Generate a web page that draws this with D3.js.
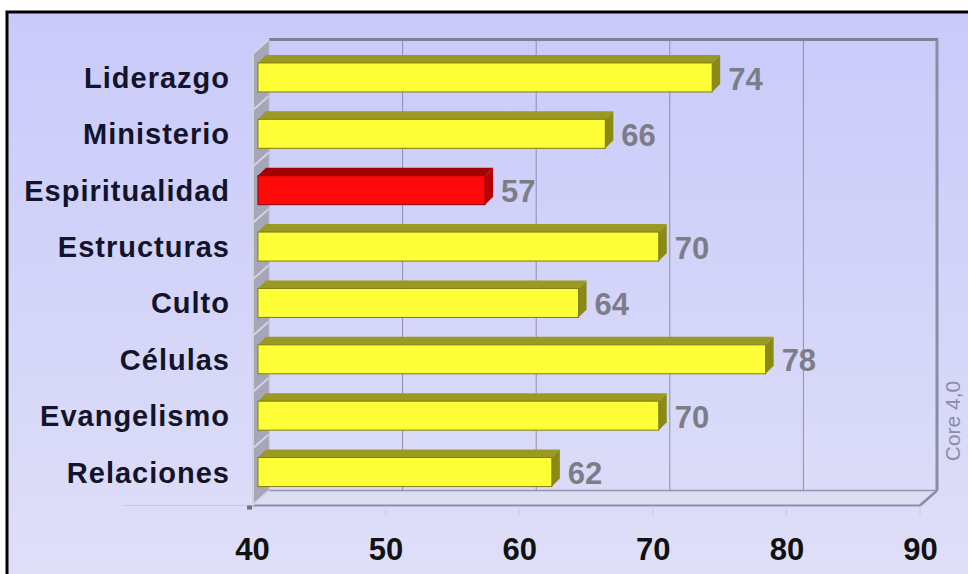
<!DOCTYPE html>
<html><head><meta charset="utf-8">
<script src="https://cdn.jsdelivr.net/npm/d3@7"></script>
<style>html,body{margin:0;padding:0;background:#fff;}svg{display:block;}</style>
</head><body>
<svg id="chart" width="968" height="574"></svg>
<script>
const categories = ["Liderazgo","Ministerio","Espiritualidad","Estructuras","Culto","Células","Evangelismo","Relaciones"];
const values = [74,66,57,70,64,78,70,62];
const highlight = ["Espiritualidad"];
const tickValues = [40,50,60,70,80,90];
const sideNote = "Core 4,0";

(function(){
const svg = d3.select("#chart");
const defs = svg.append("defs");
const bg = defs.append("linearGradient").attr("id","bg").attr("x1",0).attr("y1",0).attr("x2",0).attr("y2",1);
bg.append("stop").attr("offset","0%").attr("stop-color","#c9cafa");
bg.append("stop").attr("offset","100%").attr("stop-color","#e0e0f8");

svg.append("rect").attr("x",7).attr("y",12).attr("width",990).attr("height",600)
  .attr("fill","url(#bg)").attr("stroke","#000").attr("stroke-width",3);

const xb = d3.scaleLinear().domain([40,90]).range([269,937]);
const yb = d3.scaleBand().domain(categories).range([39.5,490.5]);
const D = {x:-17, y:15};
const f = 0.65;
const bx = v => xb(v) + D.x*f;
const xf = xb.copy().range([xb(40)+D.x, xb(90)+D.x]);
const barH = 29, dep = 8;

const yTop = yb.range()[0], yBot = yb.range()[1];
// floor
svg.append("path").attr("d", d3.line()([[xb(40),yBot],[xb(90),yBot],[xb(90)+D.x,yBot+D.y],[xb(40)+D.x,yBot+D.y]])+"Z")
  .attr("fill","#dcdcf3");
svg.append("line").attr("x1",xb(40)).attr("x2",xb(90)).attr("y1",yBot).attr("y2",yBot).attr("stroke","#9496b0").attr("stroke-width",1.5);
svg.append("line").attr("x1",xf(40)).attr("x2",xf(90)).attr("y1",yBot+D.y).attr("y2",yBot+D.y).attr("stroke","#8c8ea8").attr("stroke-width",2);
svg.append("line").attr("x1",xb(90)).attr("x2",xf(90)).attr("y1",yBot).attr("y2",yBot+D.y).attr("stroke","#8c8ea8").attr("stroke-width",2.5);
svg.append("line").attr("x1",123).attr("x2",xf(40)).attr("y1",yBot+D.y).attr("y2",yBot+D.y).attr("stroke","#c8c8e0").attr("stroke-width",1);
svg.selectAll(".tm").data(tickValues.slice(1)).join("line")
  .attr("x1",d=>xf(d)).attr("x2",d=>xf(d)).attr("y1",yBot+D.y+1).attr("y2",yBot+D.y+10)
  .attr("stroke","#d0d0e4").attr("stroke-width",1.5);

svg.selectAll(".grid").data(tickValues.slice(1,-1)).join("line")
  .attr("x1",d=>xb(d)).attr("x2",d=>xb(d)).attr("y1",yTop).attr("y2",yBot)
  .attr("stroke","#8e8eaa").attr("stroke-width",1);
svg.append("line").attr("x1",xb(40)).attr("x2",xb(90)+1).attr("y1",yTop).attr("y2",yTop).attr("stroke","#7e8196").attr("stroke-width",3);
svg.append("line").attr("x1",xb(90)).attr("x2",xb(90)).attr("y1",yTop).attr("y2",yBot).attr("stroke","#8a8da4").attr("stroke-width",3);

// left wall
svg.append("path").attr("d", d3.line()([[xb(40),yTop],[xb(40),yBot],[xb(40)+D.x,yBot+D.y],[xb(40)+D.x,yTop+D.y]])+"Z")
  .attr("fill","#a6a6b8");
svg.append("line").attr("x1",xb(40)+D.x+1).attr("x2",xb(40)+D.x+1).attr("y1",yTop+D.y).attr("y2",yBot+D.y)
  .attr("stroke","#d2d2de").attr("stroke-width",2);
svg.selectAll(".sep").data(d3.range(categories.length+1)).join("line")
  .attr("x1",xb(40)).attr("y1",i=>yTop+i*yb.step())
  .attr("x2",xb(40)+D.x).attr("y2",i=>yTop+i*yb.step()+D.y)
  .attr("stroke","#d4d4e2").attr("stroke-width",2);
svg.append("line").attr("x1",xb(40)).attr("x2",xb(40)).attr("y1",yTop).attr("y2",yBot).attr("stroke","#b8b8c8").attr("stroke-width",1);
svg.append("rect").attr("x",xf(40)-5).attr("y",yBot+D.y).attr("width",5).attr("height",4).attr("fill","#707088");

// bars
const pad = (yb.bandwidth()-barH)/2;
const g = svg.append("g");
const rows = categories.map((c,i)=>({c, v:values[i], hi: highlight.includes(c)}));
rows.forEach(r=>{
  const x0 = bx(40), x1 = bx(r.v);
  const y0 = yb(r.c)+pad+D.y*f;
  const col = r.hi ? {front:"#ff0a0a", top:"#a30000", side:"#b40000", edge:"#8a0000"}
                   : {front:"#ffff38", top:"#9a9a22", side:"#8a8a16", edge:"#7c7c10"};
  g.append("path").attr("d", d3.line()([[x0,y0],[x1,y0],[x1+dep,y0-dep],[x0+dep,y0-dep]])+"Z").attr("fill",col.top);
  g.append("path").attr("d", d3.line()([[x1,y0],[x1+dep,y0-dep],[x1+dep,y0+barH-dep],[x1,y0+barH]])+"Z").attr("fill",col.side);
  g.append("rect").attr("x",x0).attr("y",y0).attr("width",x1-x0).attr("height",barH)
    .attr("fill",col.front).attr("stroke",col.edge).attr("stroke-width",1);
  g.append("text").attr("x",x1+dep+8).attr("y",y0+barH/2+1).attr("dy","0.36em")
    .attr("font-family","Liberation Sans, Arial, sans-serif").attr("font-weight","bold")
    .attr("font-size",31).attr("fill","#7d7d88").text(r.v);
});

svg.selectAll(".cat").data(rows).join("text")
  .attr("x",230).attr("y",d=>yb(d.c)+pad+D.y*f+barH/2).attr("dy","0.36em")
  .attr("text-anchor","end").attr("font-family","Liberation Sans, Arial, sans-serif")
  .attr("font-weight","bold").attr("font-size",29).attr("letter-spacing","1px")
  .attr("fill","#13132a").text(d=>d.c);

const ax = svg.append("g").attr("transform",`translate(0,${yBot+D.y+32})`)
  .call(d3.axisBottom(xf).tickValues(tickValues).tickSize(0).tickPadding(0).tickFormat(d3.format("d")));
ax.select(".domain").remove();
ax.selectAll("text").attr("font-family","Liberation Sans, Arial, sans-serif").attr("font-weight","bold")
  .attr("font-size",31).attr("fill","#111");

svg.append("text").attr("transform","translate(960,421) rotate(-90)").attr("text-anchor","middle")
  .attr("font-family","Liberation Sans, Arial, sans-serif").attr("font-size",21).attr("fill","#8a8ea8").text(sideNote);
})();
</script>
</body></html>
